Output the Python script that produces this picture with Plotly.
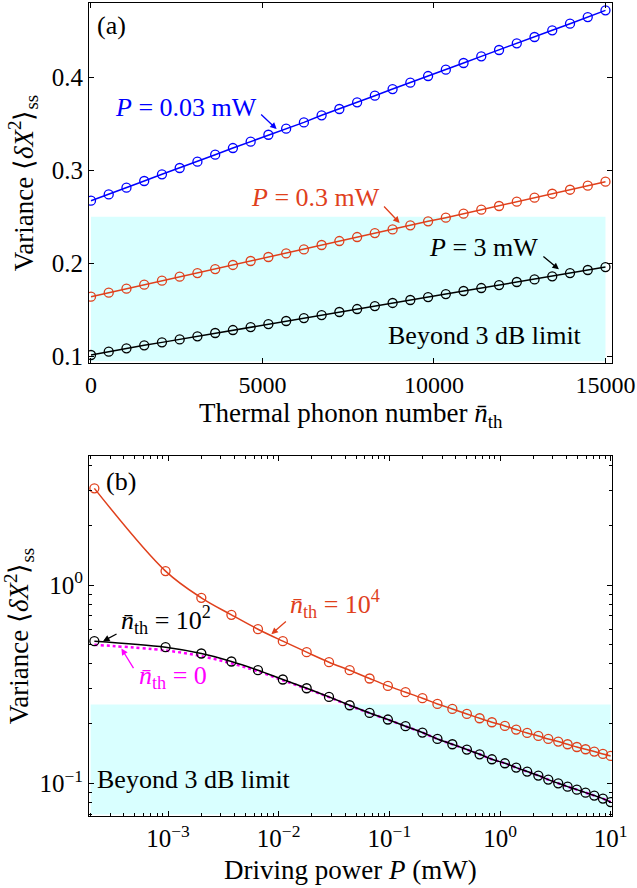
import plotly.graph_objects as go

# ---------------- data: panel (a) ----------------
n_th = [0, 517, 1034, 1552, 2069, 2586, 3103, 3621, 4138, 4655, 5172, 5690, 6207, 6724, 7241,
        7759, 8276, 8793, 9310, 9828, 10345, 10862, 11379, 11897, 12414, 12931, 13448, 13966, 14483, 15000]
var_p003 = [0.2672, 0.2740, 0.2812, 0.2884, 0.2956, 0.3024, 0.3092, 0.3167, 0.3239, 0.3307,
            0.3382, 0.3447, 0.3515, 0.3591, 0.3659, 0.3731, 0.3802, 0.3874, 0.3942, 0.4014,
            0.4082, 0.4154, 0.4226, 0.4294, 0.4366, 0.4434, 0.4506, 0.4577, 0.4649, 0.4721]
var_p03 = [0.1639, 0.1682, 0.1725, 0.1768, 0.1811, 0.1854, 0.1893, 0.1936, 0.1980, 0.2023,
           0.2066, 0.2105, 0.2148, 0.2195, 0.2238, 0.2281, 0.2324, 0.2363, 0.2407, 0.2450,
           0.2489, 0.2532, 0.2575, 0.2615, 0.2661, 0.2704, 0.2747, 0.2790, 0.2834, 0.2877]
var_p3 = [0.1011, 0.1047, 0.1083, 0.1115, 0.1147, 0.1179, 0.1212, 0.1248, 0.1280, 0.1312,
          0.1344, 0.1377, 0.1409, 0.1441, 0.1474, 0.1506, 0.1538, 0.1571, 0.1603, 0.1635,
          0.1667, 0.1700, 0.1732, 0.1764, 0.1797, 0.1825, 0.1858, 0.1893, 0.1926, 0.1958]

# ---------------- data: panel (b) ----------------
power = [2.16e-4, 9.5e-4, 2.0e-3, 3.74e-3, 6.5e-3, 0.0109, 0.0179, 0.0285, 0.0438, 0.0663,
         0.097, 0.140, 0.199, 0.272, 0.371, 0.502, 0.654, 0.845, 1.107, 1.40,
         1.76, 2.22, 2.73, 3.36, 4.08, 4.95, 5.93, 7.11, 8.51, 10.0]
var_n1e4 = [3.078, 1.177, 0.863, 0.708, 0.599, 0.5214, 0.4587, 0.4084, 0.3721, 0.3379,
            0.3101, 0.2882, 0.2687, 0.2515, 0.2372, 0.2239, 0.2129, 0.2033, 0.1948, 0.1867,
            0.1795, 0.1733, 0.1674, 0.1624, 0.1574, 0.1525, 0.1485, 0.1446, 0.1406, 0.1374]
var_n1e2 = [0.5214, 0.4863, 0.4519, 0.4118, 0.3721, 0.3340, 0.3018, 0.2728, 0.2476, 0.2265,
            0.2098, 0.1941, 0.1803, 0.1674, 0.1574, 0.1480, 0.1401, 0.1322, 0.1262, 0.1200,
            0.1146, 0.1094, 0.1044, 0.1000, 0.0962, 0.0929, 0.0897, 0.0867, 0.0837, 0.0804]
var_n0 = [0.500, 0.468, 0.438, 0.403, 0.367, 0.331, 0.300, 0.272, 0.2466, 0.2260,
          0.2095, 0.1940, 0.1802, 0.1673, 0.1573, 0.1480, 0.1401, 0.1322, 0.1262, 0.1200,
          0.1146, 0.1094, 0.1044, 0.1000, 0.0962, 0.0929, 0.0897, 0.0867, 0.0837, 0.0804]

LIMIT_3DB = 0.25

a_xticks = [0, 5000, 10000, 15000]
a_xticktext = ["0", "5000", "10000", "15000"]
a_yticks = [0.1, 0.2, 0.3, 0.4]
a_yticktext = ["0.1", "0.2", "0.3", "0.4"]
b_xticks = [1e-3, 1e-2, 1e-1, 1, 10]
b_xticktext = ["10<sup>−3</sup>", "10<sup>−2</sup>", "10<sup>−1</sup>", "10<sup>0</sup>", "10<sup>1</sup>"]
b_yticks = [0.1, 1]
b_yticktext = ["10<sup>−1</sup>", "10<sup>0</sup>"]

BLUE = "#0000FF"
RED = "#E0401C"
BLACK = "#000000"
MAGENTA = "#FF00FF"
CYAN = "#D9FFFF"
FONT = "Liberation Serif, Times New Roman, serif"

fig = go.Figure()

mk = dict(symbol="circle-open", size=9, line=dict(width=1.3))

# panel (a)
for ys, col in [(var_p003, BLUE), (var_p03, RED), (var_p3, BLACK)]:
    fig.add_trace(go.Scatter(x=n_th, y=ys, mode="lines+markers", xaxis="x", yaxis="y",
                             line=dict(color=col, width=1.5),
                             marker=dict(color=col, **mk), showlegend=False))

# panel (b)
fig.add_trace(go.Scatter(x=power, y=var_n0, mode="lines", xaxis="x2", yaxis="y2",
                         line=dict(color=MAGENTA, width=2.5, dash="dot", shape="spline"),
                         showlegend=False))
fig.add_trace(go.Scatter(x=power, y=var_n1e2, mode="lines+markers", xaxis="x2", yaxis="y2",
                         line=dict(color=BLACK, width=1.5, shape="spline"),
                         marker=dict(color=BLACK, **mk), showlegend=False))
fig.add_trace(go.Scatter(x=power, y=var_n1e4, mode="lines+markers", xaxis="x2", yaxis="y2",
                         line=dict(color=RED, width=1.5, shape="spline"),
                         marker=dict(color=RED, **mk), showlegend=False))

fig.add_shape(type="rect", xref="x", yref="y", x0=0, x1=15000, y0=0.0945, y1=LIMIT_3DB,
              fillcolor=CYAN, line=dict(width=0), layer="below")
fig.add_shape(type="rect", xref="x2", yref="y2", x0=2.0e-4, x1=10, y0=0.0695, y1=LIMIT_3DB,
              fillcolor=CYAN, line=dict(width=0), layer="below")

tf = dict(family=FONT, size=25, color="black")
tf_small = dict(family=FONT, size=24, color="black")
ttl = dict(family=FONT, size=27, color="black")
common = dict(showline=True, linecolor="black", linewidth=1, mirror="ticks", ticks="inside",
              ticklen=5, tickcolor="black", showgrid=False, zeroline=False)

minor_x = [m * 10.0 ** e for e in range(-4, 1) for m in range(2, 10)]
minor_y = [0.07, 0.08, 0.09] + [m / 10 for m in range(2, 10)] + [2, 3, 4]

fig.update_layout(
    width=637, height=888,
    margin=dict(l=89, r=25, t=3, b=72),
    plot_bgcolor="white", paper_bgcolor="white",
    font=dict(family=FONT, color="black"),
    xaxis=dict(domain=[0, 1], anchor="y", range=[-58, 15190], tickvals=a_xticks,
               ticktext=a_xticktext, tickfont=tf_small, **common),
    yaxis=dict(domain=[0.5572, 1], anchor="x", range=[0.0925, 0.48], tickvals=a_yticks,
               ticktext=a_yticktext, tickfont=tf,
               title=dict(text="Variance ⟨<i>δX</i><sup>2</sup>⟩<sub>ss</sub>", font=ttl, standoff=10),
               **common),
    xaxis2=dict(domain=[0, 1], anchor="y2", type="log", range=[-3.714, 1.012],
                tickvals=b_xticks, ticktext=b_xticktext, tickfont=tf,
                minor=dict(tickvals=minor_x, ticks="inside", ticklen=3, tickcolor="black"),
                **common),
    yaxis2=dict(domain=[0, 0.4428], anchor="x2", type="log", range=[-1.165, 0.6515],
                tickvals=b_yticks, ticktext=b_yticktext, tickfont=tf,
                minor=dict(tickvals=minor_y, ticks="inside", ticklen=3, tickcolor="black"),
                title=dict(text="Variance ⟨<i>δX</i><sup>2</sup>⟩<sub>ss</sub>", font=ttl, standoff=6),
                **common),
)

# x-axis titles as paper annotations (precise placement)
fig.add_annotation(x=0.5, y=0.493, xref="paper", yref="paper", showarrow=False,
                   text="Thermal phonon number <i>n̄</i><sub>th</sub>", font=ttl,
                   xanchor="center", yanchor="middle")
fig.add_annotation(x=0.5, y=-0.066, xref="paper", yref="paper", showarrow=False,
                   text="Driving power <i>P</i> (mW)", font=ttl,
                   xanchor="center", yanchor="middle")

af = lambda c: dict(family=FONT, size=26, color=c)

def label(x, y, text, color, xr="x", yr="y"):
    fig.add_annotation(x=x, y=y, xref=xr, yref=yr, text=text, showarrow=False,
                       font=af(color), xanchor="center", yanchor="middle")

def arrow(x, y, ax, ay, color, xr="x", yr="y"):
    fig.add_annotation(x=x, y=y, xref=xr, yref=yr, ax=ax, ay=ay, text="", showarrow=True,
                       arrowhead=2, arrowsize=1, arrowwidth=1.3, arrowcolor=color, standoff=0)

# panel (a) annotations
label(606, 0.4563, "(a)", BLACK)
label(2760, 0.368, "<i>P</i> = 0.03 mW", BLUE)
arrow(5413, 0.3443, -17, -16, BLUE)
label(6551, 0.2711, "<i>P</i> = 0.3 mW", RED)
arrow(8999, 0.2432, -17, -18, RED)
label(11433, 0.2173, "<i>P</i> = 3 mW", BLACK)
arrow(13642, 0.1933, -17, -14, BLACK)
label(11476, 0.1226, "Beyond 3 dB limit", BLACK)

# panel (b) annotations (log coordinates)
label(-3.427, 0.5217, "(b)", BLACK, "x2", "y2")
label(-2.768, -0.981, "Beyond 3 dB limit", BLACK, "x2", "y2")
label(-1.494, -0.095, "<i>n̄</i><sub>th</sub> = 10<sup>4</sup>", RED, "x2", "y2")
arrow(-2.066, -0.2475, 16, -14, RED, "x2", "y2")
label(-3.016, -0.178, "<i>n̄</i><sub>th</sub> = 10<sup>2</sup>", BLACK, "x2", "y2")
arrow(-3.587, -0.2828, 15, -8, BLACK, "x2", "y2")
label(-2.953, -0.466, "<i>n̄</i><sub>th</sub> = 0", MAGENTA, "x2", "y2")
arrow(-3.421, -0.32, 13, 21, MAGENTA, "x2", "y2")

# remove the browser's default 8px page margin so the figure fills the window exactly
fig.write_html("out.html", config={"displayModeBar": False},
               post_script="document.body.style.margin='0px';")
